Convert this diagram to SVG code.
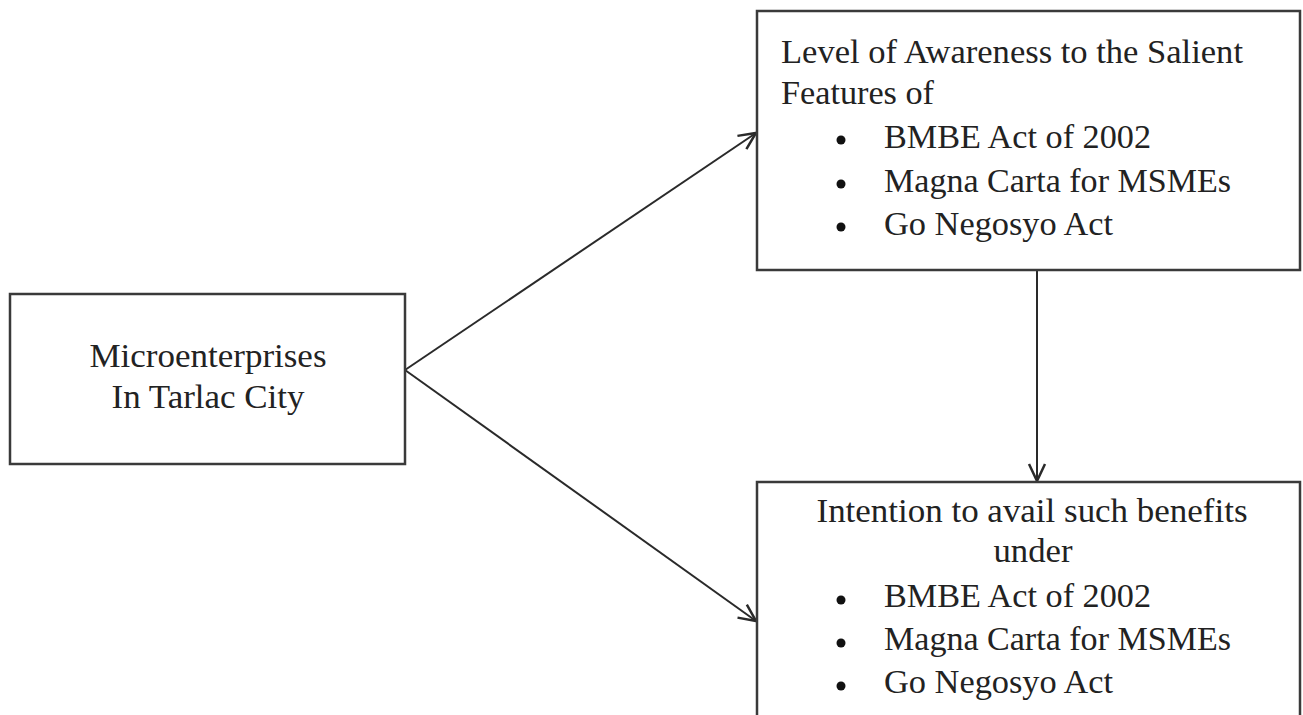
<svg xmlns="http://www.w3.org/2000/svg" width="1303" height="715" viewBox="0 0 1303 715">
<style>
.box{fill:#fff;stroke:#3a3a3a;stroke-width:2.5}
.t{font-family:"Liberation Serif","Times New Roman",serif;font-size:33px;fill:#222}
.c{text-anchor:middle}
.line{stroke:#2a2a2a;stroke-width:2;fill:none}
.b{fill:#111}
</style>
<defs>
<marker id="ah" viewBox="0 0 20 20" refX="19" refY="10" markerWidth="20" markerHeight="20" markerUnits="userSpaceOnUse" orient="auto">
<path d="M2,2 L19,10 L2,18" fill="none" stroke="#2a2a2a" stroke-width="2.5"/>
</marker>
</defs>
<rect width="1303" height="715" fill="#fff"/>
<g id="connectors">
<line class="line" x1="405" y1="370" x2="756" y2="133" marker-end="url(#ah)"/>
<line class="line" x1="405" y1="370" x2="756" y2="621" marker-end="url(#ah)"/>
<line class="line" x1="1037" y1="270" x2="1037" y2="481" marker-end="url(#ah)"/>
</g>
<g id="node-micro">
<rect class="box" x="10" y="294" width="395" height="170"/>
<text class="t c" x="208" y="367" textLength="237" lengthAdjust="spacingAndGlyphs">Microenterprises</text>
<text class="t c" x="208" y="408" textLength="193" lengthAdjust="spacingAndGlyphs">In Tarlac City</text>
</g>
<g id="node-awareness">
<rect class="box" x="757" y="11" width="543" height="259"/>
<text class="t" x="781" y="63" textLength="462" lengthAdjust="spacingAndGlyphs">Level of Awareness to the Salient</text>
<text class="t" x="781" y="104" textLength="153" lengthAdjust="spacingAndGlyphs">Features of</text>
<circle class="b" cx="841" cy="140" r="4.5"/>
<text class="t" x="884" y="148" textLength="267" lengthAdjust="spacingAndGlyphs">BMBE Act of 2002</text>
<circle class="b" cx="841" cy="184" r="4.5"/>
<text class="t" x="884" y="192" textLength="347" lengthAdjust="spacingAndGlyphs">Magna Carta for MSMEs</text>
<circle class="b" cx="841" cy="227" r="4.5"/>
<text class="t" x="884" y="235" textLength="229" lengthAdjust="spacingAndGlyphs">Go Negosyo Act</text>
</g>
<g id="node-intention">
<rect class="box" x="757" y="482" width="543" height="260"/>
<text class="t c" x="1032" y="522" textLength="431" lengthAdjust="spacingAndGlyphs">Intention to avail such benefits</text>
<text class="t c" x="1033" y="562" textLength="79" lengthAdjust="spacingAndGlyphs">under</text>
<circle class="b" cx="841" cy="600" r="4.5"/>
<text class="t" x="884" y="607" textLength="267" lengthAdjust="spacingAndGlyphs">BMBE Act of 2002</text>
<circle class="b" cx="841" cy="643" r="4.5"/>
<text class="t" x="884" y="650" textLength="347" lengthAdjust="spacingAndGlyphs">Magna Carta for MSMEs</text>
<circle class="b" cx="841" cy="686" r="4.5"/>
<text class="t" x="884" y="693" textLength="229" lengthAdjust="spacingAndGlyphs">Go Negosyo Act</text>
</g>
</svg>
